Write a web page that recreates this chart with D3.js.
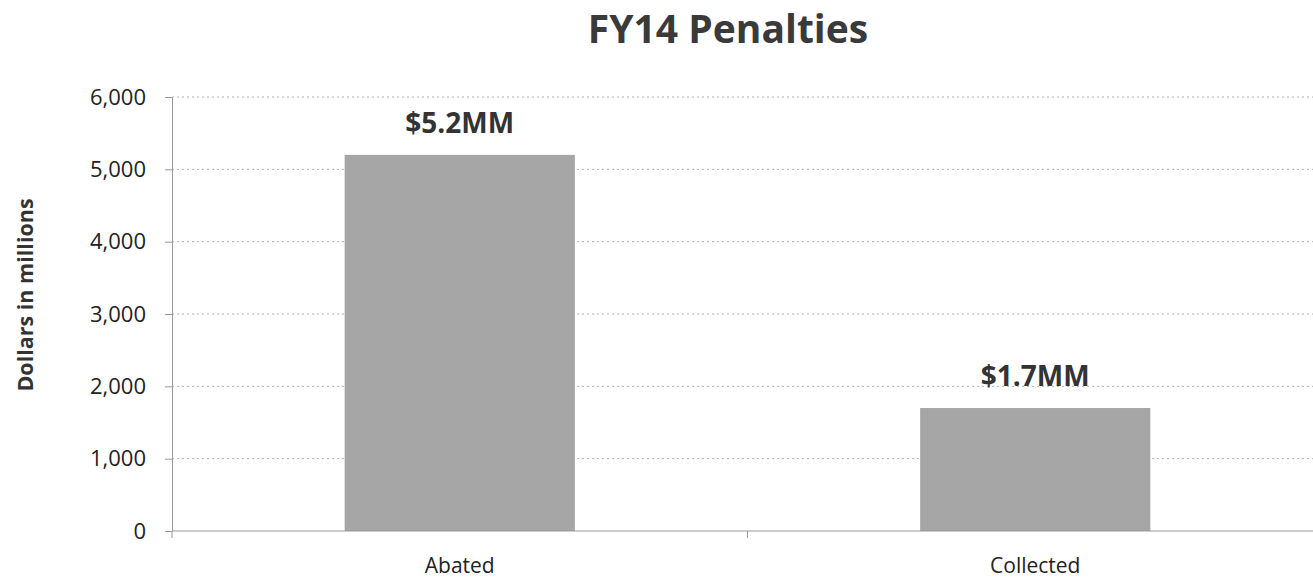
<!DOCTYPE html>
<html>
<head>
<meta charset="utf-8">
<script src="https://cdn.jsdelivr.net/npm/d3@7"></script>
<style>
  html, body { margin: 0; padding: 0; background: #fff; }
  svg { display: block; }
</style>
</head>
<body>
<svg id="chart" width="1313" height="579"></svg>
<script>
// Penalty totals, in millions of dollars
const categories = ["Abated", "Collected"];
const values = [5200, 1700];
const valueLabels = ["$5.2MM", "$1.7MM"];
const yTicks = [0, 1000, 2000, 3000, 4000, 5000, 6000];

(function () {
  const svg = d3.select("#chart");
  const plotLeft = 172, plotRight = 1323, plotTop = 97, plotBottom = 531;
  const font = "'Open Sans', 'Noto Sans', sans-serif";

  const x = d3.scaleBand().domain(categories).range([plotLeft, plotRight]).padding(0);
  const y = d3.scaleLinear().domain([0, 6000]).range([plotBottom, plotTop]);

  // gridlines
  svg.append("g")
    .selectAll("line")
    .data(yTicks.filter(d => d > 0))
    .join("line")
    .attr("x1", plotLeft).attr("x2", plotRight)
    .attr("y1", d => y(d)).attr("y2", d => y(d))
    .attr("stroke", "#b0b0b0")
    .attr("stroke-width", 1)
    .attr("stroke-dasharray", "2,3");

  // bars
  const barFrac = 0.4;
  svg.append("g")
    .selectAll("rect")
    .data(categories)
    .join("rect")
    .attr("x", d => x(d) + x.bandwidth() * (1 - barFrac) / 2)
    .attr("width", x.bandwidth() * barFrac)
    .attr("y", (d, i) => y(values[i]))
    .attr("height", (d, i) => y(0) - y(values[i]))
    .attr("fill", "#a6a6a6");

  // value labels
  svg.append("g")
    .selectAll("text")
    .data(categories)
    .join("text")
    .attr("x", d => x(d) + x.bandwidth() / 2)
    .attr("y", (d, i) => y(values[i]) - 22)
    .attr("text-anchor", "middle")
    .attr("font-family", font)
    .attr("font-weight", "bold")
    .attr("font-size", 28)
    .attr("fill", "#333")
    .text((d, i) => valueLabels[i]);

  // y axis
  const yAxis = d3.axisLeft(y).tickValues(yTicks).tickSize(7).tickPadding(19)
    .tickFormat(d3.format(","));
  const gy = svg.append("g").attr("transform", `translate(${plotLeft},0)`).call(yAxis);
  gy.select(".domain").attr("stroke", "#999");
  gy.selectAll(".tick line").attr("stroke", "#999");
  gy.selectAll(".tick text")
    .attr("font-family", font)
    .attr("font-size", 22)
    .attr("fill", "#222");

  // x axis with ticks at category boundaries
  const gx = svg.append("g").attr("transform", `translate(0,${plotBottom})`);
  gx.append("line").attr("x1", plotLeft).attr("x2", plotRight)
    .attr("stroke", "#999");
  gx.selectAll("line.tk")
    .data(categories.map(c => x(c)).concat([plotRight]))
    .join("line")
    .attr("class", "tk")
    .attr("x1", d => d).attr("x2", d => d)
    .attr("y1", 0).attr("y2", 7)
    .attr("stroke", "#999");
  gx.selectAll("text")
    .data(categories)
    .join("text")
    .attr("x", d => x(d) + x.bandwidth() / 2)
    .attr("y", 42)
    .attr("text-anchor", "middle")
    .attr("font-family", font)
    .attr("font-size", 21)
    .attr("fill", "#222")
    .text(d => d);

  // title
  svg.append("text")
    .attr("x", 728).attr("y", 43)
    .attr("text-anchor", "middle")
    .attr("font-family", font)
    .attr("font-weight", "bold")
    .attr("font-size", 39)
    .attr("fill", "#3a3a3a")
    .text("FY14 Penalties");

  // y axis title
  svg.append("text")
    .attr("transform", `translate(33,295) rotate(-90)`)
    .attr("text-anchor", "middle")
    .attr("font-family", font)
    .attr("font-weight", "bold")
    .attr("font-size", 21.5)
    .attr("fill", "#333")
    .text("Dollars in millions");
})();
</script>
</body>
</html>
